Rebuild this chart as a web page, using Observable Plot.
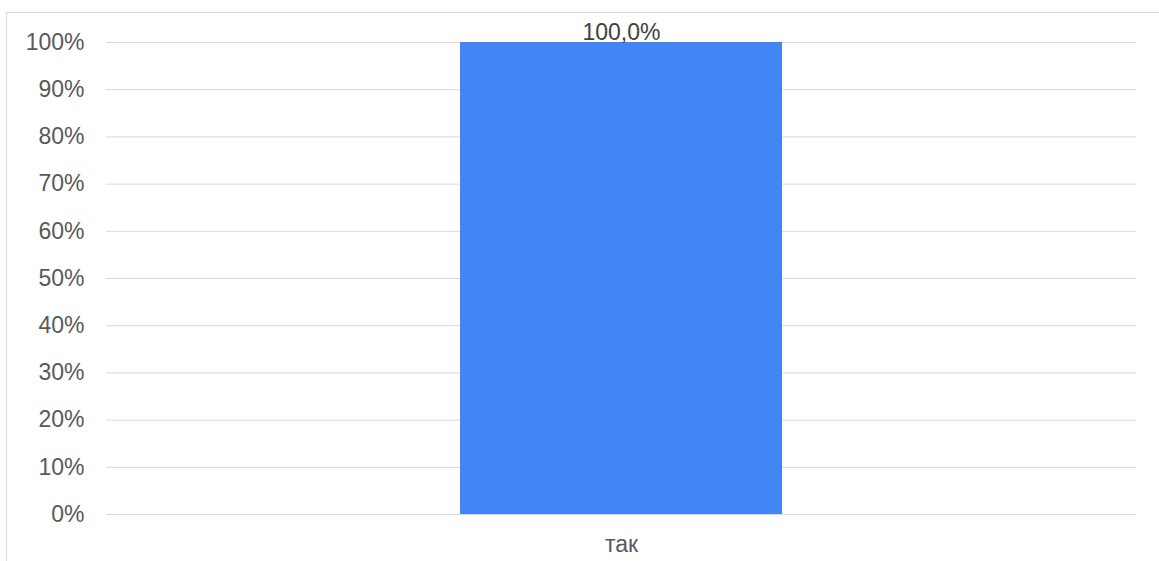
<!DOCTYPE html>
<html><head><meta charset="utf-8">
<script src="https://cdn.jsdelivr.net/npm/d3@7"></script>
<script src="https://cdn.jsdelivr.net/npm/@observablehq/plot@0.6"></script>
<style>
html,body{margin:0;padding:0;background:#fff;overflow:hidden;}
#wrap{position:relative;width:1159px;height:561px;}
#frame{position:absolute;left:6px;top:12px;width:1160px;height:600px;border:1px solid #d9d9d9;box-sizing:border-box;}
#chart{position:absolute;left:0;top:0;}
</style>
</head><body>
<div id="wrap"><div id="frame"></div><div id="chart"></div></div>
<script>
const categories = ["так"];
const values = [1.0];
const yTicks = [0, 0.1, 0.2, 0.3, 0.4, 0.5, 0.6, 0.7, 0.8, 0.9, 1.0];
const data = categories.map((c, i) => ({category: c, value: values[i]}));
const fmtLabel = v => (v * 100).toFixed(1).replace(".", ",") + "%";

const chart = Plot.plot({
  width: 1159,
  height: 561,
  marginLeft: 106,
  marginRight: 23,
  marginTop: 42,
  marginBottom: 47,
  style: {fontFamily: "Liberation Sans, Arial, sans-serif", fontSize: "23px", color: "#595959", background: "transparent", overflow: "visible"},
  x: {domain: categories, padding: 0.5237, label: null},
  y: {domain: [0, 1], label: null},
  marks: [
    Plot.gridY(yTicks, {stroke: "#d9d9d9", strokeOpacity: 1, strokeWidth: 1}),
    Plot.barY(data, {x: "category", y: "value", fill: "#4285F4"}),
    Plot.text(data, {x: "category", y: "value", text: d => fmtLabel(d.value), dy: -3, lineAnchor: "bottom", fill: "#404040", fontSize: 23}),
    Plot.axisY(yTicks, {tickSize: 0, tickPadding: 22, tickFormat: d => Math.round(d * 100) + "%", fill: "#595959", fontSize: 23}),
    Plot.axisX({tickSize: 0, tickPadding: 21, fill: "#595959", fontSize: 23})
  ]
});
document.getElementById("chart").appendChild(chart);
</script>
</body></html>
